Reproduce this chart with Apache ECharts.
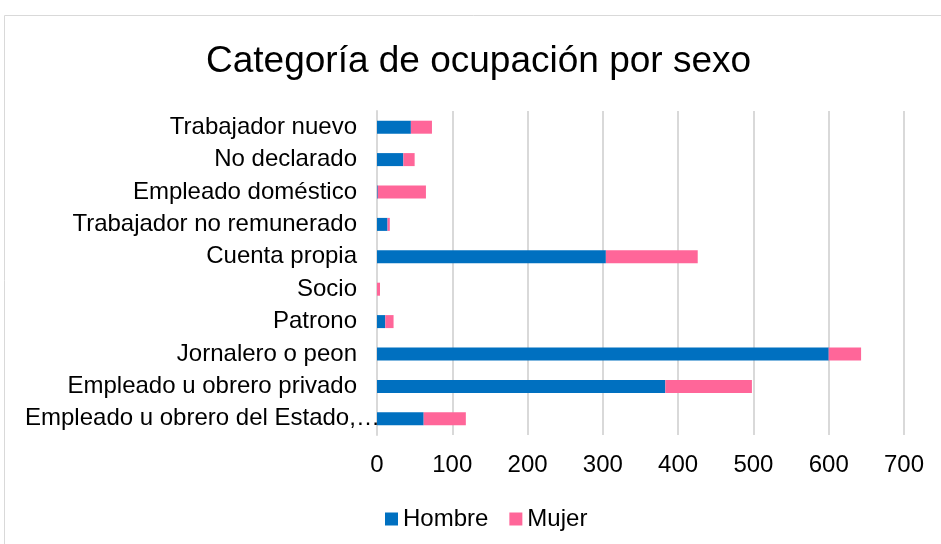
<!DOCTYPE html>
<html>
<head>
<meta charset="utf-8">
<script src="https://cdn.jsdelivr.net/npm/echarts@6/dist/echarts.min.js"></script>
<style>
  html, body { margin: 0; padding: 0; background: #fff; }
  #chart { width: 941px; height: 544px; }
</style>
</head>
<body>
<div id="chart"></div>
<script>
// categories, bottom to top
const categories = [
  'Empleado u obrero del Estado,…',
  'Empleado u obrero privado',
  'Jornalero o peon',
  'Patrono',
  'Socio',
  'Cuenta propia',
  'Trabajador no remunerado',
  'Empleado doméstico',
  'No declarado',
  'Trabajador nuevo',
];
const hombre = [62, 383, 600, 11, 0, 304, 14, 1, 35, 45];
const mujer = [56, 115, 43, 11, 4, 122, 3, 64, 15, 28];
const xTicks = [0, 700, 100]; // min, max, interval

const chart = echarts.init(document.getElementById('chart'));
const fontFamily = '"Liberation Sans", Arial, sans-serif';

const option = {
  animation: false,
  title: {
    text: 'Categoría de ocupación por sexo',
    left: 201,
    top: 38,
    textStyle: { fontFamily, fontSize: 37, fontWeight: 'normal', color: '#000' },
  },
  graphic: [{
    type: 'rect',
    shape: { x: 4.5, y: 15.5, width: 960, height: 560 },
    style: { fill: 'none', stroke: '#d9d9d9', lineWidth: 1 },
    silent: true,
  }],
  legend: {
    top: 502,
    left: 380,
    itemWidth: 13,
    itemHeight: 13,
    itemGap: 21,
    icon: 'rect',
    textStyle: { fontFamily, fontSize: 24, color: '#000' },
    data: ['Hombre', 'Mujer'],
  },
  grid: { left: 377, right: 37, top: 111, bottom: 109 },
  xAxis: {
    type: 'value',
    min: xTicks[0],
    max: xTicks[1],
    interval: xTicks[2],
    axisLine: { show: false },
    axisTick: { show: false },
    axisLabel: { fontFamily, fontSize: 24, color: '#000', margin: 18 },
    splitLine: { lineStyle: { color: '#d9d9d9', width: 2 } },
  },
  yAxis: {
    type: 'category',
    data: categories,
    axisLine: { lineStyle: { color: '#d9d9d9', width: 2 } },
    axisTick: { show: false },
    axisLabel: {
      fontFamily,
      fontSize: 24,
      color: '#000',
      margin: 20,
      // el texto truncado se sale del margen, como en el original
      formatter: (v) => (v.endsWith('…') ? '{o|' + v + '}' : v),
      rich: { o: { width: 332, align: 'left', fontFamily, fontSize: 24, color: '#000' } },
    },
  },
  series: [
    {
      name: 'Hombre',
      type: 'bar',
      stack: 'sexo',
      barWidth: 13,
      itemStyle: { color: '#0070c0' },
      data: hombre,
    },
    {
      name: 'Mujer',
      type: 'bar',
      stack: 'sexo',
      barWidth: 13,
      itemStyle: { color: '#ff6699' },
      data: mujer,
    },
  ],
};
chart.setOption(option);
</script>
</body>
</html>
